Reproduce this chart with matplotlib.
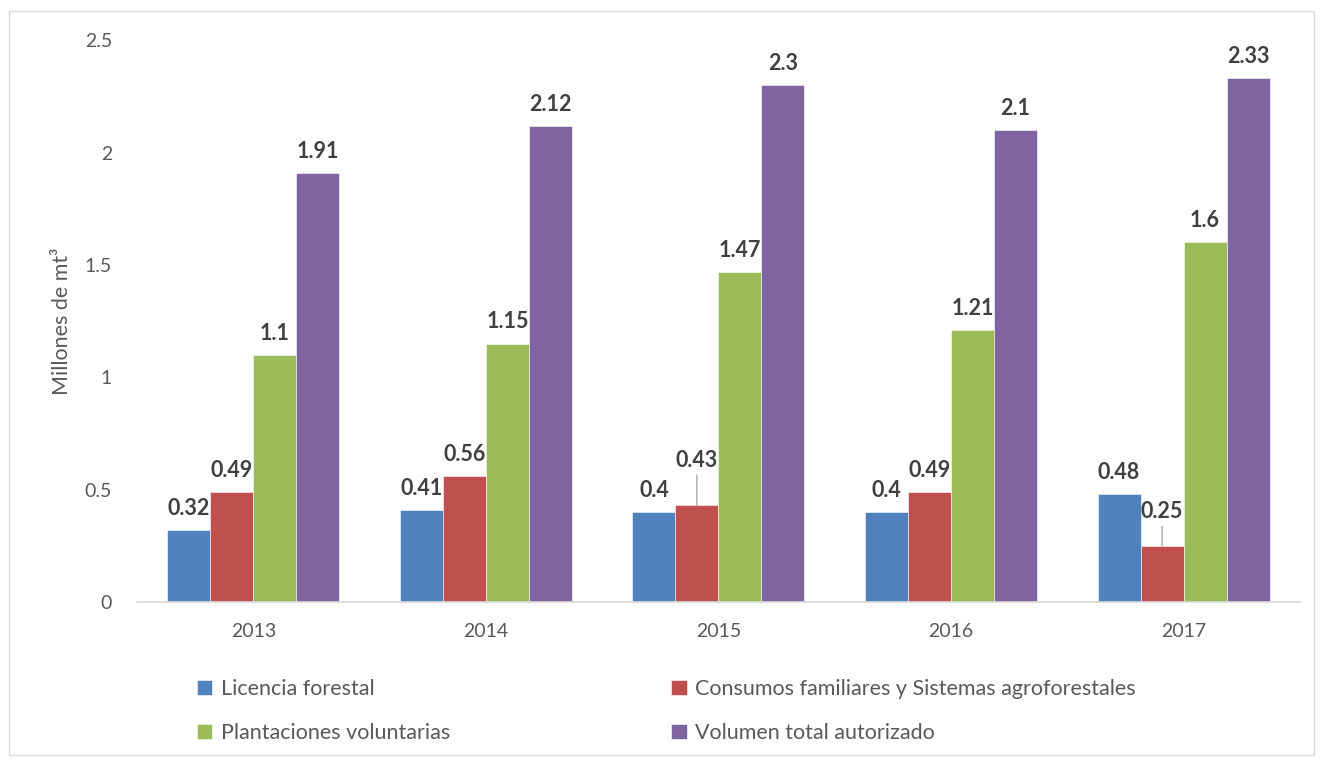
import numpy as np
import matplotlib.pyplot as plt
from matplotlib.patches import Rectangle

plt.rcParams['font.family'] = ['Lato', 'DejaVu Sans']

years = ["2013", "2014", "2015", "2016", "2017"]
licencia = [0.32, 0.41, 0.40, 0.40, 0.48]
consumos = [0.49, 0.56, 0.43, 0.49, 0.25]
plantaciones = [1.10, 1.15, 1.47, 1.21, 1.60]
volumen = [1.91, 2.12, 2.30, 2.10, 2.33]

series = [
    ("Licencia forestal", licencia, "#4F81BD"),
    ("Consumos familiares y Sistemas agroforestales", consumos, "#C0504D"),
    ("Plantaciones voluntarias", plantaciones, "#9BBB59"),
    ("Volumen total autorizado", volumen, "#8064A2"),
]

# labels lifted off the bar with a leader line: (series, year) -> extra offset in pt
raised = {(1, 2): 17, (1, 4): 9}

def main():
    fig = plt.figure(figsize=(13.21, 7.6), dpi=100)
    ax = fig.add_axes([0.1037, 0.2079, 0.8803, 0.7391])

    x = np.arange(len(years))
    w = 0.185
    bars = []
    for i, (name, vals, col) in enumerate(series):
        pos = x + (i - 1.5) * w
        b = ax.bar(pos, vals, w, color=col, label=name, edgecolor="white", linewidth=0.4)
        bars.append(b)
        for j, (px, v) in enumerate(zip(pos, vals)):
            extra = raised.get((i, j), 0)
            ax.annotate(f"{v:g}", (px, v), xytext=(0, 8 + extra), textcoords="offset points",
                        ha="center", va="bottom", fontsize=15.5, fontweight="bold", color="#404040")
            if extra:
                # leader line from bar top up toward the label
                ax.annotate("", xy=(px, v), xytext=(0, extra + 5), textcoords="offset points",
                            arrowprops=dict(arrowstyle="-", color="#A6A6A6", lw=1, shrinkA=0, shrinkB=0))

    ax.set_xlim(-0.5, 4.5)
    ax.set_ylim(0, 2.5)
    ax.set_xticks(x)
    ax.set_xticklabels(years)
    ax.set_yticks([0, 0.5, 1, 1.5, 2, 2.5])
    ax.set_yticklabels(["0", "0.5", "1", "1.5", "2", "2.5"])
    ax.tick_params(axis="both", length=0, labelsize=14, labelcolor="#595959")
    ax.tick_params(axis="y", pad=18)
    ax.tick_params(axis="x", pad=15)
    for s in ["top", "right", "left"]:
        ax.spines[s].set_visible(False)
    ax.spines["bottom"].set_color("#D9D9D9")
    ax.spines["bottom"].set_linewidth(1.2)
    ax.set_ylabel("Millones de mt³", fontsize=15.5, color="#595959", labelpad=9)

    order = [0, 2, 1, 3]
    fig.legend([bars[k] for k in order], [series[k][0] for k in order],
               ncol=2, loc="upper left", bbox_to_anchor=(0.149, 0.106),
               frameon=False, fontsize=15.5, labelcolor="#595959",
               handlelength=0.7, handleheight=0.7, handletextpad=0.4,
               columnspacing=10.3, labelspacing=1.08, borderaxespad=0, borderpad=0)

    fig.patches.append(Rectangle((0.007, 0.006), 0.988, 0.98, transform=fig.transFigure,
                                 fill=False, edgecolor="#D9D9D9", lw=1))

    fig.savefig("out.png", dpi=100)


if __name__ == "__main__":
    main()
